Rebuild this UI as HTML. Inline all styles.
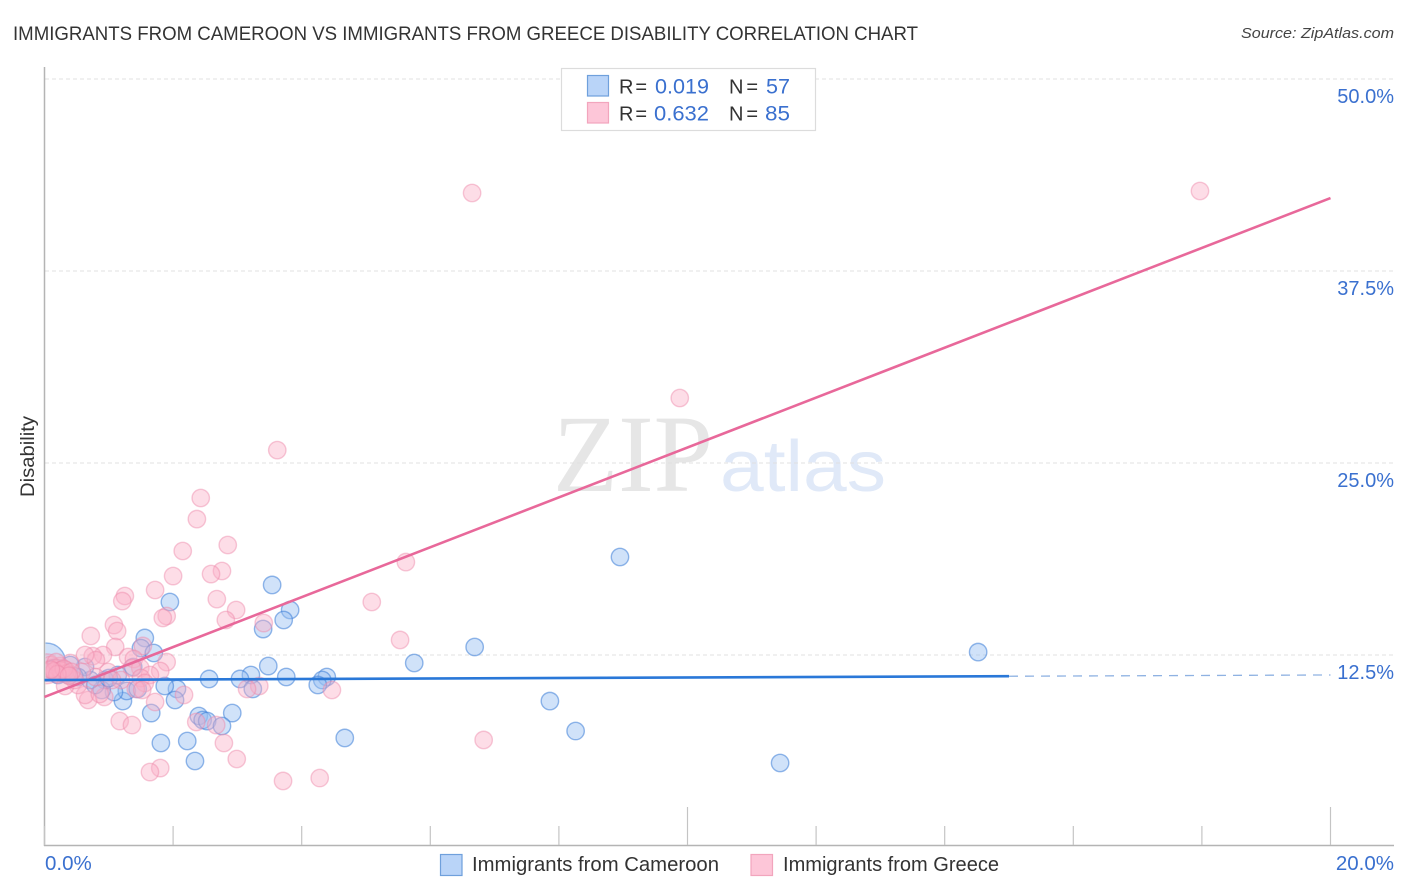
<!DOCTYPE html>
<html lang="en">
<head>
<meta charset="utf-8">
<title>Immigrants from Cameroon vs Immigrants from Greece Disability Correlation Chart</title>
<style>
html,body{margin:0;padding:0;background:#fff;width:1406px;height:892px;overflow:hidden}
svg{display:block;font-family:"Liberation Sans",sans-serif}
</style>
</head>
<body>
<svg id="chart" xmlns="http://www.w3.org/2000/svg" width="1406" height="892" viewBox="0 0 1406 892">
  <defs><clipPath id="plot-clip"><rect x="45.5" y="60" width="1360" height="790"/></clipPath></defs>
  <rect width="1406" height="892" fill="#ffffff"/>
  <text x="13" y="40" font-size="19" fill="#333" textLength="905" lengthAdjust="spacingAndGlyphs">IMMIGRANTS FROM CAMEROON VS IMMIGRANTS FROM GREECE DISABILITY CORRELATION CHART</text>
  <text x="1241" y="38" font-size="15" font-style="italic" fill="#444" textLength="153" lengthAdjust="spacingAndGlyphs">Source: ZipAtlas.com</text>
  <g>
    <text x="553" y="491" font-family="'Liberation Serif',serif" font-size="110" fill="#e6e6e6" textLength="160" lengthAdjust="spacingAndGlyphs">ZIP</text>
    <text x="720" y="491" font-size="72" fill="#e0e9f8" textLength="166" lengthAdjust="spacingAndGlyphs">atlas</text>
  </g>
  <g id="grid"></g>
  <g id="axes"></g>
  <g id="points" clip-path="url(#plot-clip)"></g>
  <g id="trends"></g>
  <text transform="translate(34 497) rotate(-90)" font-size="19" fill="#333" textLength="81" lengthAdjust="spacingAndGlyphs">Disability</text>

  <g>
    <rect x="561.5" y="68.5" width="254" height="62" fill="#fff" stroke="#dcdcdc" stroke-width="1.2"/>
    <rect x="587.5" y="75.5" width="21" height="20.5" fill="#b9d4f8" stroke="#6fa0dc" stroke-width="1.2"/>
    <rect x="587.5" y="102.5" width="21" height="20.5" fill="#fdc6d8" stroke="#f2a5bd" stroke-width="1.2"/>
    <text x="619" y="93.5" font-size="20" fill="#333" textLength="28" lengthAdjust="spacing">R =</text>
    <text x="655" y="93.5" font-size="21.5" fill="#3a70cf" textLength="54" lengthAdjust="spacingAndGlyphs">0.019</text>
    <text x="729" y="93.5" font-size="20" fill="#333" textLength="29" lengthAdjust="spacing">N =</text>
    <text x="766" y="93.5" font-size="21.5" fill="#3a70cf" textLength="24" lengthAdjust="spacingAndGlyphs">57</text>
    <text x="619" y="120.5" font-size="20" fill="#333" textLength="28" lengthAdjust="spacing">R =</text>
    <text x="654" y="120.5" font-size="21.5" fill="#3a70cf" textLength="55" lengthAdjust="spacingAndGlyphs">0.632</text>
    <text x="729" y="120.5" font-size="20" fill="#333" textLength="29" lengthAdjust="spacing">N =</text>
    <text x="765" y="120.5" font-size="21.5" fill="#3a70cf" textLength="25" lengthAdjust="spacingAndGlyphs">85</text>
  </g>

  <g>
    <rect x="440.5" y="854.5" width="21.5" height="21" fill="#b9d4f8" stroke="#6fa0dc" stroke-width="1.2"/>
    <text x="472" y="871" font-size="20" fill="#333" textLength="247" lengthAdjust="spacingAndGlyphs">Immigrants from Cameroon</text>
    <rect x="751" y="854.5" width="21.5" height="21" fill="#fdc6d8" stroke="#f2a5bd" stroke-width="1.2"/>
    <text x="783" y="871" font-size="20" fill="#333" textLength="216" lengthAdjust="spacingAndGlyphs">Immigrants from Greece</text>
  </g>
</svg>
<script>
// ---- chart data (percent values) ----
const xTickValues = [0,2,4,6,8,10,12,14,16,18,20];
const xMajorTicks = [10,20];
const xEndLabels = ['0.0%','20.0%'];
const xEndValues = [0,20];
const yTickValues = [12.5,25,37.5,50];
const yTickLabels = ['12.5%','25.0%','37.5%','50.0%'];

const cameroonX = [3.54,8.95,14.52,6.69,5.75,3.82,3.72,3.40,1.95,1.56,1.50,1.70,3.48,3.76,3.21,3.04,2.56,4.39,4.32,4.25,3.24,2.06,1.87,2.03,2.92,2.40,2.46,2.53,2.76,2.22,1.81,1.66,2.34,4.67,7.86,8.26,11.44,1.22,1.28,1.08,1.45,1.14,0.94,0.89,0.71,0.63,0.40,0.37,0.52,0.27,0.16,0.09,0.21,0.46,0.79,1.00,1.38];
const cameroonY = [17.06,18.88,12.69,13.02,11.98,15.43,14.78,14.19,15.95,13.61,12.95,12.63,11.78,11.07,11.20,10.94,10.94,11.07,10.87,10.55,10.29,10.29,10.48,9.57,8.72,8.53,8.27,8.20,7.88,6.90,6.77,8.72,5.60,7.10,9.50,7.55,5.47,9.50,10.16,10.09,10.29,11.20,10.87,10.22,10.87,11.72,11.85,11.20,11.07,11.52,11.65,11.39,11.20,11.13,10.55,11.00,11.72];
const cameroonClusterX = [0.03];
const cameroonClusterY = [12.04];

const greeceX = [6.65,17.97,9.88,3.62,2.43,2.37,2.85,2.15,5.62,2.00,2.76,2.59,1.72,1.25,1.21,2.68,2.98,5.09,1.90,1.84,2.82,3.41,1.08,1.13,0.72,5.53,1.53,1.10,1.90,1.80,1.30,1.39,0.91,0.75,0.80,0.63,0.99,1.49,1.36,1.19,1.64,1.50,1.56,1.42,1.52,3.34,3.15,4.47,2.17,1.72,0.68,0.63,0.93,0.86,0.52,0.32,1.17,1.36,2.36,2.67,2.79,6.83,1.80,1.64,2.99,3.71,4.28,0.40,0.24,0.09,0.05,0.16,0.27,0.47,0.12,0.21,0.33,0.01,0.18,1.05,0.79,0.58,0.25,0.35,0.15,0.30,0.42,0.20,0.10,0.38];
const greeceY = [42.58,42.71,29.23,25.84,22.72,21.35,19.66,19.27,18.55,17.64,17.97,17.77,16.73,16.34,16.01,16.14,15.43,15.95,15.04,14.91,14.78,14.58,14.45,14.06,13.74,13.48,13.09,13.02,12.04,11.46,12.37,12.24,12.50,12.43,12.17,12.50,11.39,11.65,11.65,10.87,11.20,11.00,10.68,10.29,10.22,10.48,10.29,10.22,9.90,9.44,9.57,9.90,9.77,9.96,10.55,10.48,8.20,7.94,8.14,7.94,6.77,6.97,5.14,4.88,5.73,4.30,4.49,11.98,11.78,11.85,11.39,11.39,11.33,10.87,11.65,11.65,11.52,11.39,12.04,10.87,11.07,11.39,11.50,11.30,11.45,11.60,11.40,11.25,11.55,11.15];
const greeceClusterX = [0.03];
const greeceClusterY = [11.6];

const cameroonTrend = [10.87,0.0165];   // intercept, slope
const cameroonSolidEnd = [15.0];
const greeceTrend = [9.77,1.624];       // intercept, slope
const trendDomain = [0,20];

// ---- scales ----
function xScale(v){ return 44.5 + v*64.3; }
function yScale(v){ return 847 - v*15.36; }

const NS = 'http://www.w3.org/2000/svg';
function make(tag, attrs, parent, text){
  const el = document.createElementNS(NS, tag);
  for (const k in attrs) el.setAttribute(k, attrs[k]);
  if (text !== undefined) el.textContent = text;
  parent.appendChild(el);
  return el;
}
const grid = document.getElementById('grid');
const axes = document.getElementById('axes');
const points = document.getElementById('points');
const trends = document.getElementById('trends');

// gridlines + y labels
yTickValues.forEach(function(v,i){
  const line = make('line',{x1:45,x2:1394,y1:yScale(v),y2:yScale(v),stroke:'#e0e0e0','stroke-width':1,'stroke-dasharray':'4 3'},grid);
  
  
  const label = make('text',{x:1394,y:yScale(v)+24,'text-anchor':'end','font-size':20,fill:'#3a70cf'},axes,yTickLabels[i]);
  
  
});

// axis lines
const yAxis = make('line',{x1:44.5,x2:44.5,y1:67,y2:846,stroke:'#b4b4b4','stroke-width':1.5},axes);


const xAxis = make('line',{x1:44,x2:1394,y1:845.5,y2:845.5,stroke:'#b4b4b4','stroke-width':1.5},axes);



// x ticks
xTickValues.forEach(function(v){
  const top = xMajorTicks.indexOf(v) >= 0 ? 807 : 826;
  const t = make('line',{x1:xScale(v),x2:xScale(v),y1:top,y2:845,stroke:'#c4c4c4','stroke-width':1.2},axes);
  
  
});
xEndValues.forEach(function(v,i){
  const attrs = i === 0 ? {x:45,y:870,'font-size':20.5,fill:'#3a70cf'} : {x:1394,y:870,'text-anchor':'end','font-size':20.5,fill:'#3a70cf'};
  const l = make('text',attrs,axes,xEndLabels[i]);
  
  
});

// points
const blueStyle = {fill:'rgba(150,190,242,0.45)',stroke:'rgba(60,125,215,0.55)','stroke-width':1.4};
const pinkStyle = {fill:'rgba(250,175,198,0.42)',stroke:'rgba(238,135,168,0.45)','stroke-width':1.4};
function drawSeries(xs, ys, r, style, name){
  xs.forEach(function(x,i){
    const attrs = Object.assign({cx:xScale(x),cy:yScale(ys[i]),r:r}, style);
    const c = make('circle',attrs,points);
    
    
  });
}
drawSeries(cameroonClusterX, cameroonClusterY, 19, blueStyle, 'cameroon-cluster-point');
drawSeries(greeceClusterX, greeceClusterY, 15, pinkStyle, 'greece-cluster-point');
drawSeries(cameroonX, cameroonY, 8.7, blueStyle, 'cameroon-point');
drawSeries(greeceX, greeceY, 8.7, pinkStyle, 'greece-point');

// trend lines
function trendY(tr, x){ return tr[0] + tr[1]*x; }
const pinkLine = make('line',{x1:xScale(trendDomain[0]),y1:yScale(trendY(greeceTrend,trendDomain[0])),x2:xScale(trendDomain[1]),y2:yScale(trendY(greeceTrend,trendDomain[1])),stroke:'#e8689a','stroke-width':2.6},trends);


const blueSolid = make('line',{x1:xScale(trendDomain[0]),y1:yScale(trendY(cameroonTrend,trendDomain[0])),x2:xScale(cameroonSolidEnd[0]),y2:yScale(trendY(cameroonTrend,cameroonSolidEnd[0])),stroke:'#2a78d8','stroke-width':2.6},trends);


const blueDash = make('line',{x1:xScale(cameroonSolidEnd[0]),y1:yScale(trendY(cameroonTrend,cameroonSolidEnd[0])),x2:xScale(trendDomain[1]),y2:yScale(trendY(cameroonTrend,trendDomain[1])),stroke:'#8fb2e2','stroke-width':1.3,'stroke-dasharray':'9 7'},trends);


</script>
</body>
</html>
